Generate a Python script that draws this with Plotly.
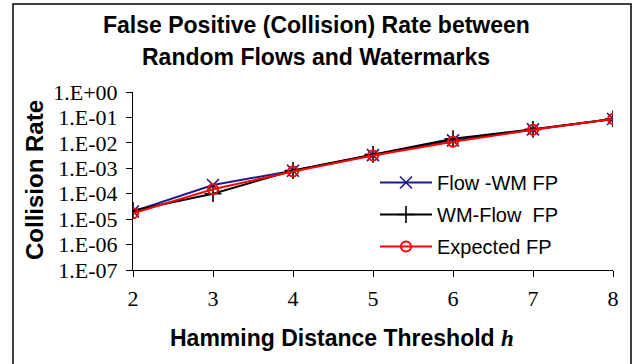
import plotly.graph_objects as go

h_values = [2, 3, 4, 5, 6, 7, 8]
flow_wm_fp = [2.0e-5, 2.2e-4, 8.0e-4, 3.3e-3, 1.25e-2, 3.4e-2, 8.7e-2]
wm_flow_fp = [2.2e-5, 1.0e-4, 8.2e-4, 3.5e-3, 1.45e-2, 3.4e-2, 8.7e-2]
expected_fp = [1.7e-5, 1.5e-4, 7.5e-4, 3.2e-3, 1.1e-2, 3.3e-2, 8.6e-2]
y_tickvals = [1e0, 1e-1, 1e-2, 1e-3, 1e-4, 1e-5, 1e-6, 1e-7]
y_ticktext = ["1.E+00", "1.E-01", "1.E-02", "1.E-03", "1.E-04", "1.E-05", "1.E-06", "1.E-07"]

W, H = 639, 364
L, R, T, B = 133, 26, 92, 94
pw, ph = W - L - R, H - T - B

SANS = "Liberation Sans, Arial"
SERIF = "Liberation Serif, Times New Roman"

fig = go.Figure()
fig.add_trace(go.Scatter(
    x=h_values, y=flow_wm_fp, name="Flow -WM FP", mode="lines+markers",
    line=dict(color="#1c1c8c", width=2),
    marker=dict(symbol="x-thin", size=12, line=dict(color="#1c1c8c", width=1.6)),
    legendgroup="a"))
fig.add_trace(go.Scatter(
    x=h_values, y=wm_flow_fp, name="WM-Flow  FP", mode="lines+markers",
    line=dict(color="black", width=2),
    marker=dict(symbol="cross-thin", size=12, line=dict(color="black", width=1.6)),
    legendgroup="b"))
fig.add_trace(go.Scatter(
    x=h_values, y=expected_fp, name="Expected FP", mode="lines+markers",
    line=dict(color="#ff0000", width=2),
    marker=dict(symbol="circle-open", size=10, color="#ff0000", line=dict(color="#ff0000", width=2)),
    legendgroup="c"))

def px_x(p):
    return (p - L) / pw

def px_y(p):
    return (H - B - p) / ph

fig.add_shape(type="rect", xref="paper", yref="paper",
              x0=px_x(13), x1=px_x(631), y0=px_y(400), y1=px_y(4),
              line=dict(color="black", width=1.5), fillcolor="rgba(0,0,0,0)", layer="below")

annots = [
    dict(text="<b>False Positive (Collision) Rate between</b>", x=px_x(316), y=px_y(25),
         font=dict(family=SANS, size=23, color="black")),
    dict(text="<b>Random Flows and Watermarks</b>", x=px_x(316), y=px_y(57),
         font=dict(family=SANS, size=23, color="black")),
    dict(text="<b>Hamming Distance Threshold </b><b><i><span style='font-family:Liberation Serif'>h</span></i></b>",
         x=px_x(342), y=px_y(338), font=dict(family=SANS, size=23, color="black")),
    dict(text="<b>Collision Rate</b>", x=px_x(34), y=px_y(180), textangle=-90,
         font=dict(family=SANS, size=24, color="black")),
]
for a in annots:
    fig.add_annotation(xref="paper", yref="paper", showarrow=False,
                       xanchor="center", yanchor="middle", **a)

fig.update_layout(
    width=W, height=H,
    margin=dict(l=L, r=R, t=T, b=B, autoexpand=False),
    paper_bgcolor="white", plot_bgcolor="white",
    showlegend=True,
    legend=dict(x=px_x(375), y=px_y(163), xanchor="left", yanchor="top",
                traceorder="grouped", tracegroupgap=3, itemwidth=52,
                bgcolor="rgba(0,0,0,0)",
                font=dict(family=SANS, size=20, color="black")),
    xaxis=dict(range=[2, 8], tickvals=h_values, showgrid=False, zeroline=False,
               showline=True, linecolor="black", linewidth=1,
               ticks="outside", ticklen=6, tickcolor="black", ticklabelstandoff=3,
               tickfont=dict(family=SERIF, size=22, color="black")),
    yaxis=dict(type="log", range=[-7, 0], tickvals=y_tickvals, ticktext=y_ticktext,
               showgrid=False, zeroline=False, showline=True, linecolor="black", linewidth=1,
               ticks="outside", ticklen=6, tickcolor="black", ticklabelstandoff=4,
               tickfont=dict(family=SERIF, size=22, color="black")),
)

fig.write_html("out.html", config={"displayModeBar": False},
               post_script="document.body.style.margin='0px';")
